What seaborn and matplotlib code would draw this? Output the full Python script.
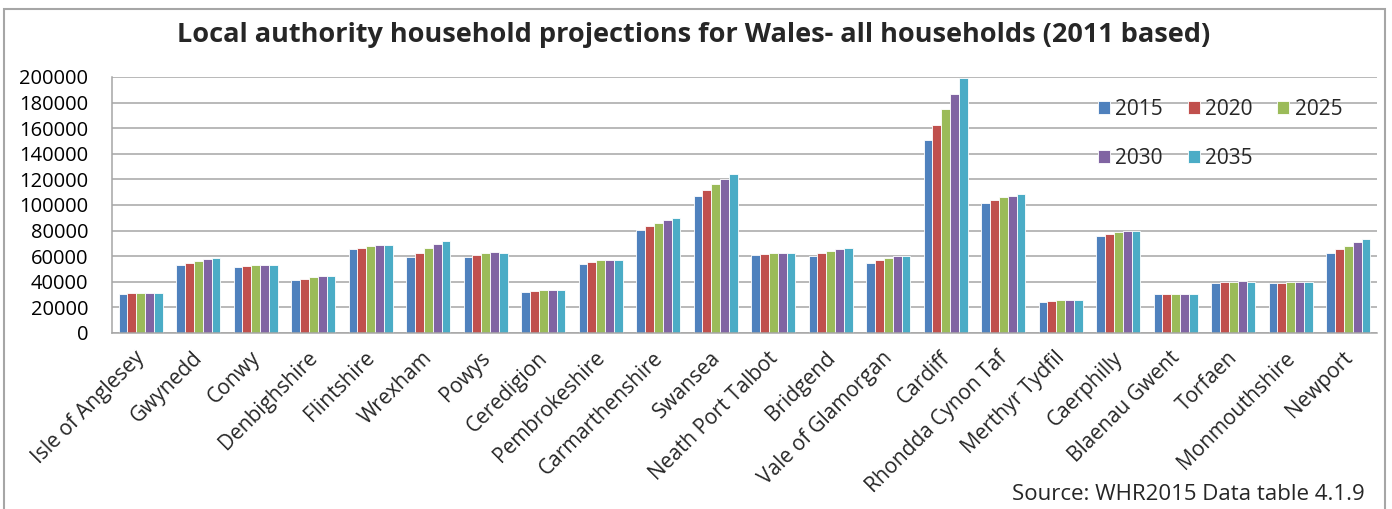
import matplotlib
matplotlib.use("Agg")
import matplotlib.pyplot as plt
import matplotlib.transforms as mtransforms
from matplotlib.patches import Rectangle
from matplotlib.ticker import FixedLocator
import pandas as pd
import seaborn as sns

# Household projections by local authority (2011 based)
areas = ["Isle of Anglesey", "Gwynedd", "Conwy", "Denbighshire", "Flintshire",
         "Wrexham", "Powys", "Ceredigion", "Pembrokeshire", "Carmarthenshire",
         "Swansea", "Neath Port Talbot", "Bridgend", "Vale of Glamorgan",
         "Cardiff", "Rhondda Cynon Taf", "Merthyr Tydfil", "Caerphilly",
         "Blaenau Gwent", "Torfaen", "Monmouthshire", "Newport"]
years = ["2015", "2020", "2025", "2030", "2035"]
hh_2015 = [30700, 53400, 51800, 41400, 65400, 59600, 59600, 31800, 54200, 80700,
           106800, 60700, 60200, 54950, 151000, 101300, 24500, 75800, 30200,
           39100, 38800, 62800]
hh_2020 = [31500, 54700, 52300, 42450, 66700, 62800, 61200, 32550, 55700, 83600,
           111500, 61500, 62200, 56800, 162800, 103900, 25250, 77600, 30500,
           39800, 39300, 65900]
hh_2025 = [31250, 56500, 52900, 43500, 67700, 66150, 62800, 33300, 56800, 86200,
           116150, 62500, 64100, 58600, 174700, 106000, 25800, 78900, 30500,
           40100, 39800, 68200]
hh_2030 = [31500, 57550, 53100, 44300, 68500, 69300, 63000, 33600, 57300, 88000,
           120300, 62800, 65400, 59900, 186700, 107300, 25800, 79700, 30500,
           40400, 39800, 70800]
hh_2035 = [31000, 58600, 53100, 44800, 68500, 71900, 62800, 33850, 57300, 89800,
           124200, 62800, 66700, 60400, 199500, 108300, 26000, 79900, 30200,
           40100, 39800, 73200]
y_ticks = [0, 20000, 40000, 60000, 80000, 100000, 120000, 140000, 160000,
           180000, 200000]
colors = ["#4F81BD", "#C0504D", "#9BBB59", "#8064A2", "#4BACC6"]

series = [hh_2015, hh_2020, hh_2025, hh_2030, hh_2035]
df = pd.DataFrame({
    "area": [a for _ in years for a in areas],
    "year": [y for y in years for _ in areas],
    "households": [v for s in series for v in s],
})

sns.set_theme(style="white")
plt.rcParams["font.family"] = ["Open Sans", "DejaVu Sans"]

W, H = 1392, 509
fig = plt.figure(figsize=(W / 100, H / 100), dpi=100)
ax = fig.add_axes([112 / W, 1 - 333 / H, (1377 - 112) / W, (333 - 77) / H])

sns.barplot(data=df, x="area", y="households", hue="year", order=areas,
            hue_order=years, palette=colors, saturation=1, width=0.77,
            edgecolor="white", linewidth=0.6, ax=ax)

grid_c = "#A6A6A6"
ax.set_ylim(0, 200000)
ax.set_xlim(-0.5, len(areas) - 0.5)
ax.yaxis.set_major_locator(FixedLocator(y_ticks))
ax.set_yticklabels([str(t) for t in y_ticks], fontsize=14.5)
ax.yaxis.grid(True, color=grid_c, linewidth=1.1)
ax.set_axisbelow(True)
ax.tick_params(axis="y", which="major", direction="out", length=7,
               color=grid_c, width=1.1, pad=10, labelcolor="black")

# category labels on the centres, boundary tick marks in between
ax.set_xticks(range(len(areas)))
ax.set_xticklabels(areas, rotation=45, ha="right", va="top",
                   rotation_mode="anchor", fontsize=15)
ax.xaxis.set_minor_locator(FixedLocator([i - 0.5 for i in range(len(areas) + 1)]))
ax.tick_params(axis="x", which="major", length=0, pad=6)
ax.tick_params(axis="x", which="minor", direction="out", length=7,
               color=grid_c, width=1.1)
shift = mtransforms.ScaledTranslation(-4.5 / 72, -4.5 / 72, fig.dpi_scale_trans)
for lbl in ax.get_xticklabels():
    lbl.set_transform(lbl.get_transform() + shift)
ax.set_xlabel("")
ax.set_ylabel("")

for side in ["top", "right"]:
    ax.spines[side].set_visible(False)
for side in ["left", "bottom"]:
    ax.spines[side].set_color(grid_c)
    ax.spines[side].set_linewidth(1.1)

# legend laid out row by row: 2015 2020 2025 / 2030 2035
handles, labels = ax.get_legend_handles_labels()
order = [0, 3, 1, 4, 2]
ax.legend([handles[i] for i in order], [labels[i] for i in order], ncol=3,
          loc="upper left", bbox_to_anchor=(1098 / W, 1 - 99 / H),
          bbox_transform=fig.transFigure, frameon=False, fontsize=15,
          handlelength=0.58, handleheight=0.58, handletextpad=0.26,
          columnspacing=1.17, labelspacing=1.33, borderpad=0, borderaxespad=0)

fig.text(694 / W, 1 - 35 / H,
         "Local authority household projections for Wales- all households (2011 based)",
         ha="center", va="center", fontsize=19.5, fontweight="bold")
fig.text(1365 / W, 9 / H, "Source: WHR2015 Data table 4.1.9",
         ha="right", va="baseline", fontsize=16)

fig.patches.append(Rectangle((4 / W, -0.05), (1385 - 4) / W, 1.05 - 9 / H,
                             transform=fig.transFigure, fill=False,
                             edgecolor="#A6A6A6", linewidth=1.5))

fig.savefig("out.png", dpi=100)
